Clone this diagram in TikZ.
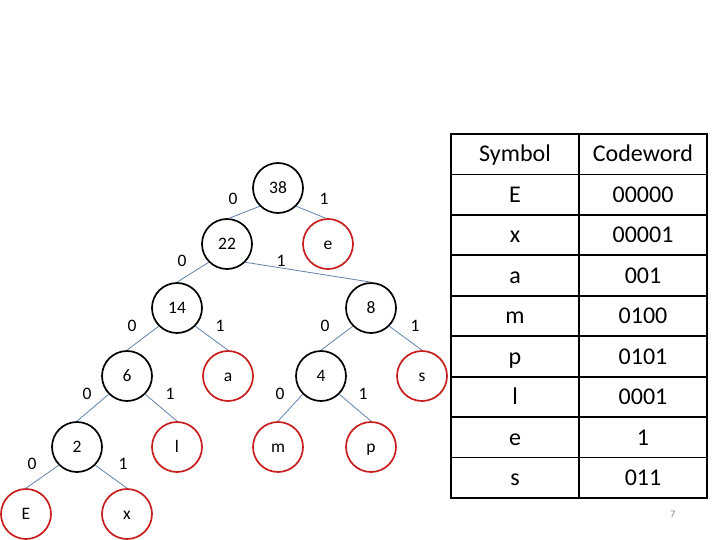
\documentclass[tikz,border=0pt]{standalone}
\usepackage{fontspec}
\setmainfont{Carlito}
\begin{document}
\begin{tikzpicture}[x=1bp,y=-1bp,
  ntext/.style={font=\fontsize{17.5bp}{19bp}\selectfont,text height=11bp,text depth=0bp},
  inner/.style={circle,draw=black,line width=1.7bp,minimum size=50bp,inner sep=0pt,ntext},
  leaf/.style={circle,draw={rgb,255:red,200;green,30;blue,30},line width=1.7bp,minimum size=50bp,inner sep=0pt,ntext},
  edge/.style={draw={rgb,255:red,95;green,130;blue,170},line width=0.8bp},
  bit/.style={inner sep=0pt,ntext},
  cell/.style={font=\fontsize{24bp}{26bp}\selectfont,inner sep=0pt,anchor=base}]
\useasboundingbox (0,0) rectangle (720,540);
% nodes
\node[inner] (n38) at (278,188) {38};
\node[inner] (n22) at (227,244) {22};
\node[leaf]  (e)   at (328,244) {e};
\node[inner] (n14) at (177,308) {14};
\node[inner] (n8)  at (371,308) {8};
\node[inner] (n6)  at (127,376) {6};
\node[leaf]  (a)   at (228,376) {a};
\node[inner] (n4)  at (321,376) {4};
\node[leaf]  (s)   at (422,376) {s};
\node[inner] (n2)  at (77,447) {2};
\node[leaf]  (l)   at (177,447) {l};
\node[leaf]  (m)   at (278,447) {m};
\node[leaf]  (p)   at (371,447) {p};
\node[leaf]  (E)   at (26,514) {E};
\node[leaf]  (x)   at (127,514) {x};
% edges
\draw[edge] (n38.-135) -- (n22.85);
\draw[edge] (n38.-45) -- (e.95);
\draw[edge] (n22.-135) -- (n14.north);
\draw[edge] (n22.-45) -- (n8.north);
\draw[edge] (n14.-135) -- (n6.north);
\draw[edge] (n14.-45) -- (a.north);
\draw[edge] (n8.-135) -- (n4.north);
\draw[edge] (n8.-45) -- (s.north);
\draw[edge] (n6.-135) -- (n2.north);
\draw[edge] (n6.-45) -- (l.north);
\draw[edge] (n4.-135) -- (m.north);
\draw[edge] (n4.-45) -- (p.north);
\draw[edge] (n2.-135) -- (E.north);
\draw[edge] (n2.-45) -- (x.north);
% bit labels
\node[bit] (b1) at (233,199) {0};
\node[bit] (b2) at (324,199) {1};
\node[bit] (b3) at (182,261) {0};
\node[bit] (b4) at (281,261) {1};
\node[bit] (b5) at (132,326) {0};
\node[bit] (b6) at (220,326) {1};
\node[bit] (b7) at (325,326) {0};
\node[bit] (b8) at (415,326) {1};
\node[bit] (b9) at (87,394) {0};
\node[bit] (b10) at (170,394) {1};
\node[bit] (b11) at (280,394) {0};
\node[bit] (b12) at (363,394) {1};
\node[bit] (b13) at (32,464) {0};
\node[bit] (b14) at (123,464) {1};
% table
\draw[line width=1.8bp] (451,134) rectangle (707,498);
\draw[line width=1.8bp] (579,134) -- (579,498);
\foreach \i in {1,...,8}{
  \draw[line width=1.8bp] (451,{134+\i*40.444}) -- (707,{134+\i*40.444});
}
\foreach \s/\c [count=\i from 0] in {Symbol/Codeword,E/00000,x/00001,a/001,m/0100,p/0101,l/0001,e/1,s/011}{
  \node[cell] (s\i) at (515,{162+\i*40.444}) {\s};
  \node[cell] (c\i) at (643,{162+\i*40.444}) {\c};
}
\node[font=\fontsize{10bp}{12bp}\selectfont,text={rgb,255:red,130;green,130;blue,130}] (pg) at (673,514) {7};
\end{tikzpicture}
\end{document}
